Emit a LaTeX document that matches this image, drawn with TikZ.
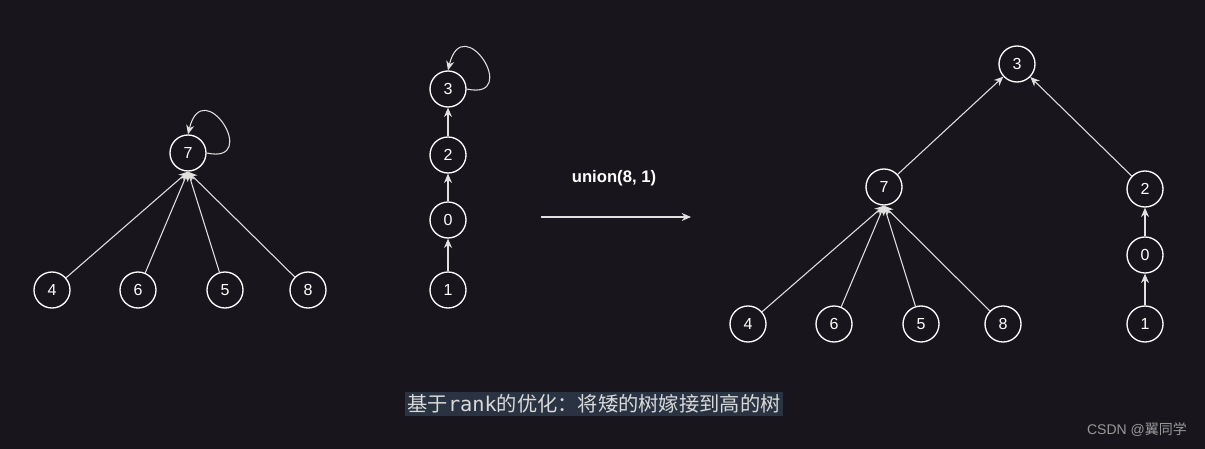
\documentclass[tikz,border=0pt]{standalone}
\usepackage{fontspec}
\setmainfont{Liberation Sans}
\newfontfamily\cjk{Noto Sans CJK SC}
\setmonofont{DejaVu Sans Mono}
\usetikzlibrary{arrows.meta}
\definecolor{bg}{HTML}{18161C}
\definecolor{capbg}{HTML}{2A3341}
\tikzset{
  nd/.style={circle,draw=white,line width=1pt,fill=bg,text=white,minimum size=27pt,inner sep=0pt,font=\fontsize{12}{14}\selectfont},
  ed/.style={draw=white!88!black,line width=0.8pt,-{Stealth[length=7pt,width=6pt]}}
}
\begin{document}
\begin{tikzpicture}[x=0.75pt,y=-0.75pt]
\fill[bg] (0,0) rectangle (1205,449);
\useasboundingbox (0,0) rectangle (1205,449);
% left
\node[nd] (a7) at (188,153) {7};
\node[nd] (a4) at (52,290) {4};
\node[nd] (a6) at (138,290) {6};
\node[nd] (a5) at (225,290) {5};
\node[nd] (a8) at (308,290) {8};
\foreach \n in {a4,a6,a5,a8} \draw[ed] (\n) -- (a7.south);
\draw[ed] (a7.east) .. controls +(55,12) and +(15,-62) .. (a7.north);
% middle
\node[nd] (b3) at (448,89) {3};
\node[nd] (b2) at (448,155) {2};
\node[nd] (b0) at (448,220) {0};
\node[nd] (b1) at (448,290) {1};
\draw[ed] (b1) -- (b0);
\draw[ed] (b0) -- (b2);
\draw[ed] (b2) -- (b3);
\draw[ed] (b3.east) .. controls +(55,12) and +(15,-62) .. (b3.north);
% arrow
\coordinate (s) at (541,217);
\coordinate (e) at (691,217);
\draw[ed] (s) -- (e);
\node[text=white,font=\bfseries\fontsize{12.5}{14}\selectfont] (lab) at (614,178) {union(8, 1)};
% right
\node[nd] (c3) at (1017,64) {3};
\node[nd] (c7) at (884,187) {7};
\node[nd] (c2) at (1145,189) {2};
\node[nd] (c0) at (1145,255) {0};
\node[nd] (c1) at (1145,324) {1};
\node[nd] (c4) at (748,324) {4};
\node[nd] (c6) at (834,324) {6};
\node[nd] (c5) at (921,324) {5};
\node[nd] (c8) at (1003,324) {8};
\foreach \n in {c4,c6,c5,c8} \draw[ed] (\n) -- (c7.south);
\draw[ed] (c7) -- (c3);
\draw[ed] (c2) -- (c3);
\draw[ed] (c1) -- (c0);
\draw[ed] (c0) -- (c2);
% caption
\node[fill=capbg,text=white!85!black,inner sep=2pt,font=\fontsize{15.2}{17}\selectfont] (cap) at (594,404) {\cjk 基于\texttt{rank}的优化：将矮的树嫁接到高的树};
\node[text=gray!80,font=\fontsize{10.5}{12}\selectfont] (wm) at (1137,430) {CSDN @{\cjk 翼同学}};
\end{tikzpicture}
\end{document}
